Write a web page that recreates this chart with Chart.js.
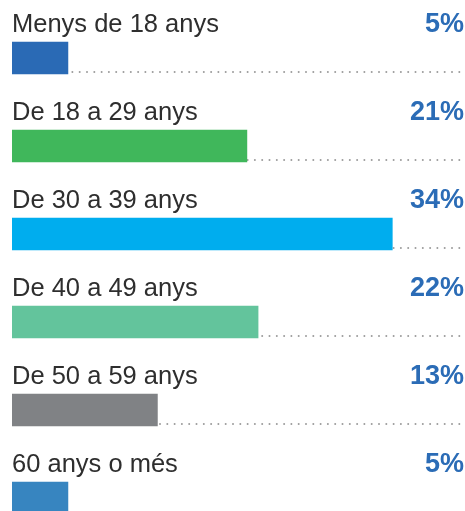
<!DOCTYPE html>
<html>
<head>
<meta charset="utf-8">
<script src="https://cdn.jsdelivr.net/npm/chart.js@4"></script>
<style>
    html, body { margin: 0; padding: 0; background: #fff; overflow: hidden; }
    .chart-box { position: relative; width: 465px; height: 542px; }
</style>
</head>
<body>
<div class="chart-box"><canvas id="ages"></canvas></div>
<script>
// franges d'edat i percentatges
const ageGroups = ['Menys de 18 anys', 'De 18 a 29 anys', 'De 30 a 39 anys',
    'De 40 a 49 anys', 'De 50 a 59 anys', '60 anys o més'];
const shares = [5, 21, 34, 22, 13, 5];
const shareLabels = ['5%', '21%', '34%', '22%', '13%', '5%'];

const barColors = ['#2a6ab5', '#40b75b', '#00adee', '#63c49c', '#808285', '#3785c0'];

// etiquetes a sobre de cada barra i linia de punts a sota
const rowDecor = {
    id: 'rowDecor',
    beforeDatasetsDraw(chart) {
        const ctx = chart.ctx;
        const meta = chart.getDatasetMeta(0);
        const area = chart.chartArea;
        ctx.save();
        ctx.fillStyle = '#9b9b9b';
        meta.data.forEach(bar => {
            const y = bar.y + bar.height / 2 - 2;
            for (let x = area.left + 2; x < chart.width + 2; x += 7.3) {
                ctx.beginPath();
                ctx.arc(x, y, 1, 0, Math.PI * 2);
                ctx.fill();
            }
        });
        ctx.restore();
    },
    afterDatasetsDraw(chart) {
        const ctx = chart.ctx;
        const meta = chart.getDatasetMeta(0);
        const area = chart.chartArea;
        ctx.save();
        ctx.textBaseline = 'alphabetic';
        meta.data.forEach((bar, i) => {
            const baseY = bar.y - bar.height / 2 - 10.5;
            ctx.font = '25.5px "Liberation Sans", Arial, sans-serif';
            ctx.fillStyle = '#2e2e2e';
            ctx.textAlign = 'left';
            ctx.fillText(ageGroups[i], area.left, baseY);
            ctx.font = 'bold 27px "Liberation Sans", Arial, sans-serif';
            ctx.fillStyle = '#2b6cb6';
            ctx.textAlign = 'right';
            ctx.fillText(shareLabels[i], chart.width - 1, baseY);
        });
        ctx.restore();
    }
};

new Chart(document.getElementById('ages'), {
    type: 'bar',
    data: {
        labels: ageGroups,
        datasets: [{
            data: shares,
            backgroundColor: barColors,
            borderWidth: 0,
            barThickness: 32
        }]
    },
    options: {
        indexAxis: 'y',
        responsive: true,
        maintainAspectRatio: false,
        animation: false,
        layout: { padding: { left: 12, right: 0, top: 14, bottom: 0 } },
        scales: {
            x: { display: false, min: 0, max: 40.5 },
            y: { display: false }
        },
        plugins: {
            legend: { display: false },
            tooltip: { enabled: false }
        }
    },
    plugins: [rowDecor]
});
</script>
</body>
</html>
